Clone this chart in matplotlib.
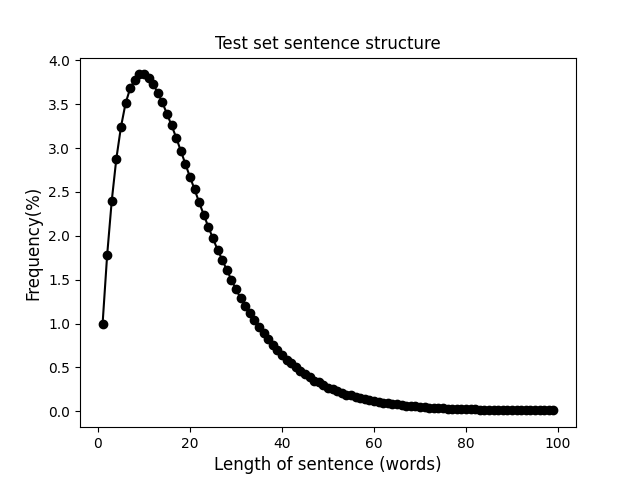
import matplotlib
matplotlib.use("Agg")
import matplotlib.pyplot as plt

# sentence length in words
lengths = list(range(1, 100))

# frequency (%) per sentence length
freq = [
    0.99, 1.78, 2.40, 2.88, 3.24, 3.51, 3.68, 3.78, 3.84, 3.84,
    3.80, 3.73, 3.63, 3.52, 3.39, 3.26, 3.12, 2.97, 2.82, 2.67,
    2.53, 2.38, 2.24, 2.10, 1.97, 1.84, 1.73, 1.61, 1.50, 1.39,
    1.29, 1.20, 1.12, 1.04, 0.96, 0.89, 0.82, 0.75, 0.70, 0.64,
    0.59, 0.55, 0.50, 0.46, 0.42, 0.39, 0.35, 0.33, 0.30, 0.27,
    0.25, 0.23, 0.21, 0.19, 0.18, 0.165, 0.15, 0.14, 0.13, 0.12,
    0.11, 0.10, 0.092, 0.085, 0.078, 0.071, 0.065, 0.060, 0.055, 0.050,
    0.046, 0.042, 0.039, 0.036, 0.033, 0.031, 0.029, 0.027, 0.025, 0.023,
    0.022, 0.021, 0.020, 0.019, 0.018, 0.017, 0.016, 0.015, 0.015, 0.014,
    0.014, 0.013, 0.013, 0.012, 0.012, 0.011, 0.011, 0.010, 0.010,
]

fig, ax = plt.subplots(figsize=(6.4, 4.8), dpi=100)
ax.plot(lengths, freq, color="black", marker="o", markersize=6)
ax.set_title("Test set sentence structure")
ax.set_xlabel("Length of sentence (words)", fontsize=12)
ax.set_ylabel("Frequency(%)", fontsize=12)
fig.savefig("out.png")
